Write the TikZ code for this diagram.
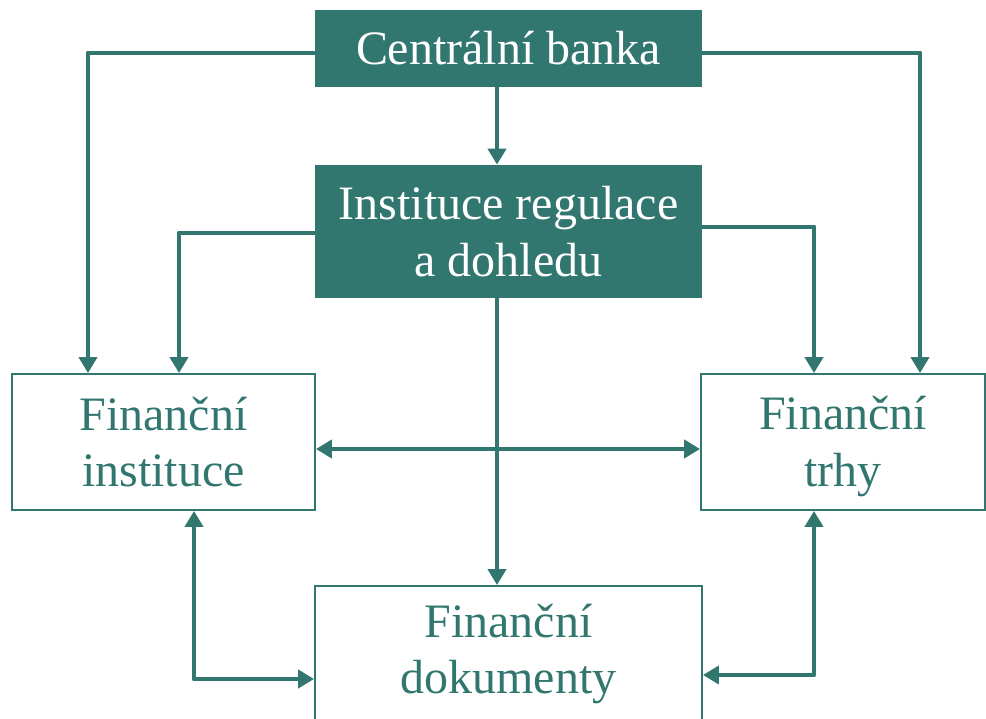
\documentclass[tikz,border=0pt]{standalone}
\usepackage{fontspec}
\setmainfont{Liberation Serif}
\usepackage{tikz}
\usetikzlibrary{arrows.meta,positioning}
\definecolor{bankteal}{RGB}{49,119,111}

\tikzset{
  fullbox/.style={fill=bankteal, text=white, align=center, inner sep=0pt,
    minimum width=7.74cm, font=\fontsize{27.3}{32}\selectfont},
  openbox/.style={draw=bankteal, line width=1.1pt, fill=white, text=bankteal,
    align=center, inner sep=0pt, minimum height=2.72cm,
    font=\fontsize{27.3}{32}\selectfont},
  link/.style={bankteal, line width=2.8pt, line join=round,
    -{Triangle[length=0.32cm,width=0.36cm]}},
  twoway/.style={link, {Triangle[length=0.32cm,width=0.36cm]}-{Triangle[length=0.32cm,width=0.36cm]}}
}

\begin{document}
\begin{tikzpicture}[x=0.02cm,y=-0.02cm]
	\useasboundingbox (0,0) rectangle (986,719);
	
	% boxes
	\node[fullbox, minimum height=1.54cm] (bank) at (508.5,48.5) {Centrální banka};
	\node[fullbox, minimum height=2.66cm] (regul) at (508.5,231.5) {Instituce regulace\\a dohledu};
	\node[openbox, minimum width=6.06cm] (inst) at (163.5,442) {Finanční\\instituce};
	\node[openbox, minimum width=5.68cm] (trhy) at (843,442) {\rule{0pt}{0.85cm}Finanční\\trhy};
	\node[openbox, minimum width=7.74cm] (dok) at (508.5,654) {Finanční\\dokumenty};
	
	% columns of the connectors
	\coordinate (midx) at (497,0);
	\coordinate (lx1) at (88,0);
	\coordinate (lx2) at (179,0);
	\coordinate (lx3) at (194,0);
	\coordinate (rx1) at (920,0);
	\coordinate (rx2) at (814,0);
	
	\draw[link] (bank.south -| midx) -- (regul.north -| midx);
	\draw[link] (regul.south -| midx) -- (dok.north -| midx);
	\draw[link] ([yshift=-0.09cm]bank.west) -| (inst.north -| lx1);
	\draw[link] ([yshift=-0.09cm]bank.east) -| (trhy.north -| rx1);
	\draw[link] ([yshift=-0.03cm]regul.west) -| (inst.north -| lx2);
	\draw[link] ([yshift=0.09cm]regul.east) -| (trhy.north -| rx2);
	
	\draw[twoway] ([yshift=-0.14cm]inst.east) -- ([yshift=-0.14cm]trhy.west);
	\draw[twoway] (inst.south -| lx3) |- ([yshift=-0.5cm]dok.west);
	\draw[twoway] (trhy.south -| rx2) |- ([yshift=-0.42cm]dok.east);
\end{tikzpicture}
\end{document}
